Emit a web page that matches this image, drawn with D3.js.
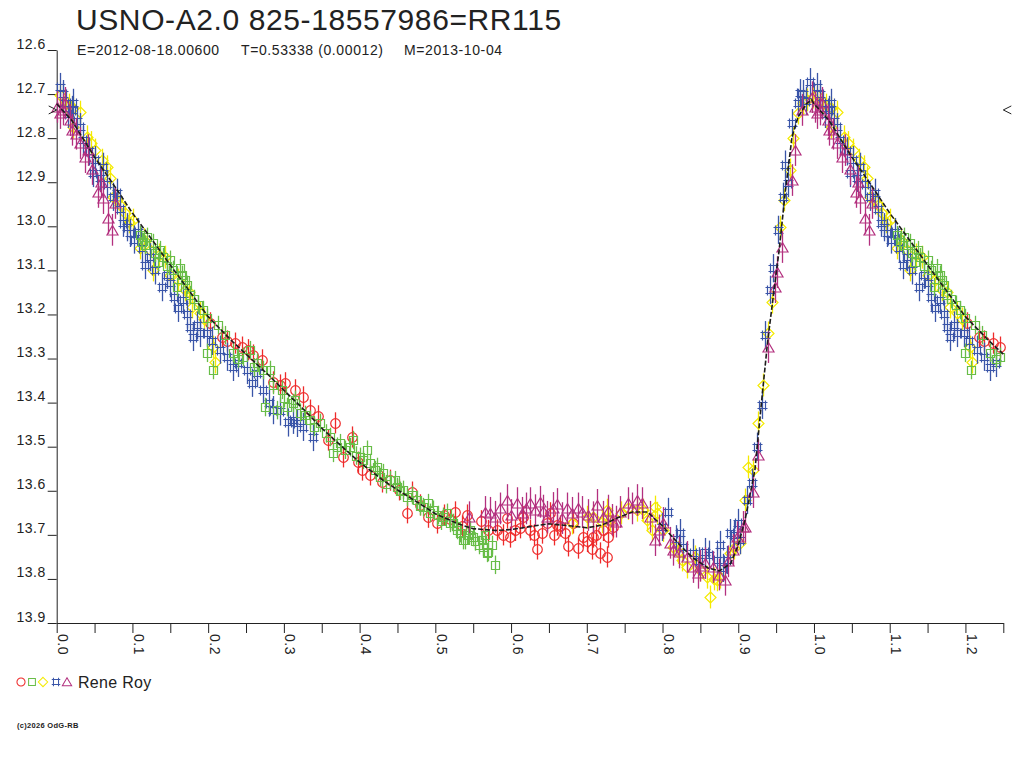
<!DOCTYPE html>
<html>
<head>
<meta charset="utf-8">
<script src="https://cdn.jsdelivr.net/npm/d3@7"></script>
<style>
  body { margin: 0; background: #fff; }
  svg text { font-family: "Liberation Sans", Arial, sans-serif; fill: #222; }
</style>
</head>
<body>
<svg id="chart" width="1024" height="768"></svg>
<script>
const title = 'USNO-A2.0 825-18557986=RR115';
const subtitle = ['E=2012-08-18.00600', 'T=0.53338 (0.00012)', 'M=2013-10-04'];
const observer = 'Rene Roy';
const credit = '(c)2026 OdG-RB';

const magTicks = [12.6, 12.7, 12.8, 12.9, 13.0, 13.1, 13.2, 13.3, 13.4, 13.5, 13.6, 13.7, 13.8, 13.9];
const phaseTicks = [0, 0.05, 0.1, 0.15, 0.2, 0.25, 0.3, 0.35, 0.4, 0.45, 0.5, 0.55, 0.6, 0.65,
  0.7, 0.75, 0.8, 0.85, 0.9, 0.95, 1.0, 1.05, 1.1, 1.15, 1.2, 1.25];
const phaseLabels = ['0.0', '0.1', '0.2', '0.3', '0.4', '0.5', '0.6', '0.7', '0.8', '0.9', '1.0', '1.1', '1.2'];
const maxMark = 12.736;

// [phase, magnitude] per comparison set (same observer)
const redCircles = [
  [0.202, 13.219], [0.218, 13.251], [0.225, 13.260], [0.236, 13.265], [0.245, 13.274], [0.252, 13.280],
  [0.259, 13.292], [0.271, 13.303], [0.286, 13.353], [0.295, 13.360], [0.302, 13.355], [0.315, 13.371],
  [0.325, 13.387], [0.335, 13.417], [0.345, 13.430], [0.358, 13.485], [0.367, 13.446], [0.378, 13.523],
  [0.390, 13.478], [0.398, 13.535], [0.403, 13.553], [0.414, 13.564], [0.430, 13.580], [0.440, 13.576],
  [0.452, 13.598], [0.463, 13.650], [0.469, 13.603], [0.480, 13.632], [0.490, 13.660], [0.502, 13.673],
  [0.511, 13.655], [0.520, 13.665], [0.526, 13.648], [0.535, 13.680], [0.542, 13.655], [0.560, 13.668],
  [0.570, 13.690], [0.581, 13.689], [0.590, 13.700], [0.595, 13.662], [0.599, 13.705], [0.605, 13.690],
  [0.612, 13.684], [0.616, 13.659], [0.625, 13.689], [0.630, 13.700], [0.634, 13.732], [0.641, 13.696],
  [0.647, 13.673], [0.651, 13.650], [0.657, 13.700], [0.661, 13.678], [0.665, 13.680], [0.671, 13.696],
  [0.675, 13.725], [0.682, 13.673], [0.688, 13.730], [0.695, 13.705], [0.700, 13.715], [0.707, 13.732],
  [0.708, 13.705], [0.712, 13.700], [0.717, 13.741], [0.722, 13.690], [0.727, 13.750], [0.728, 13.705],
  [0.735, 13.682]
];
const greenSquares = [
  [0.110, 13.020], [0.113, 13.035], [0.117, 13.042], [0.119, 13.024], [0.127, 13.038], [0.130, 13.060],
  [0.134, 13.081], [0.137, 13.054], [0.140, 13.070], [0.145, 13.090], [0.150, 13.076], [0.154, 13.099],
  [0.159, 13.138], [0.163, 13.095], [0.166, 13.110], [0.169, 13.122], [0.172, 13.133], [0.176, 13.156],
  [0.181, 13.165], [0.187, 13.178], [0.193, 13.190], [0.199, 13.208], [0.199, 13.287], [0.207, 13.326],
  [0.213, 13.224], [0.222, 13.247], [0.233, 13.287], [0.240, 13.300], [0.246, 13.296], [0.255, 13.281],
  [0.260, 13.320], [0.264, 13.310], [0.272, 13.326], [0.275, 13.410], [0.282, 13.326], [0.285, 13.360],
  [0.291, 13.417], [0.297, 13.371], [0.300, 13.390], [0.304, 13.410], [0.312, 13.401], [0.315, 13.394],
  [0.321, 13.423], [0.328, 13.428], [0.335, 13.439], [0.340, 13.455], [0.348, 13.446], [0.355, 13.470],
  [0.361, 13.478], [0.365, 13.514], [0.370, 13.500], [0.374, 13.492], [0.381, 13.507], [0.387, 13.501],
  [0.391, 13.485], [0.395, 13.520], [0.400, 13.523], [0.405, 13.530], [0.410, 13.507], [0.414, 13.537],
  [0.420, 13.553], [0.423, 13.546], [0.427, 13.569], [0.431, 13.560], [0.435, 13.585], [0.440, 13.576],
  [0.447, 13.576], [0.449, 13.591], [0.453, 13.600], [0.457, 13.598], [0.463, 13.614], [0.469, 13.610],
  [0.476, 13.621], [0.480, 13.635], [0.484, 13.637], [0.490, 13.628], [0.493, 13.650], [0.497, 13.643],
  [0.504, 13.655], [0.508, 13.668], [0.510, 13.659], [0.515, 13.650], [0.519, 13.673], [0.523, 13.673],
  [0.527, 13.680], [0.529, 13.689], [0.533, 13.696], [0.537, 13.712], [0.539, 13.712], [0.543, 13.700],
  [0.546, 13.689], [0.550, 13.705], [0.553, 13.715], [0.557, 13.723], [0.562, 13.712], [0.563, 13.727],
  [0.566, 13.700], [0.568, 13.741], [0.570, 13.739], [0.575, 13.723], [0.579, 13.768]
];
const yellowDiamonds = [
  [0.004, 12.702], [0.012, 12.718], [0.016, 12.725], [0.022, 12.732], [0.031, 12.741], [0.022, 12.775],
  [0.040, 12.797], [0.045, 12.810], [0.051, 12.827], [0.060, 12.850], [0.066, 12.865], [0.070, 12.890],
  [0.074, 12.933], [0.080, 12.940], [0.084, 12.952], [0.090, 12.970], [0.095, 12.990], [0.101, 12.986],
  [0.110, 13.049], [0.115, 13.030], [0.123, 13.054], [0.127, 13.099], [0.135, 13.065], [0.143, 13.070],
  [0.150, 13.110], [0.160, 13.122], [0.169, 13.144], [0.175, 13.150], [0.179, 13.183], [0.189, 13.197],
  [0.195, 13.210], [0.206, 13.274], [0.209, 13.308],
  [0.681, 13.673], [0.700, 13.660], [0.708, 13.659], [0.720, 13.670], [0.727, 13.644], [0.731, 13.666],
  [0.745, 13.650], [0.755, 13.640], [0.766, 13.644], [0.774, 13.644], [0.780, 13.666], [0.790, 13.637],
  [0.793, 13.651], [0.786, 13.689], [0.800, 13.690], [0.814, 13.727], [0.820, 13.740], [0.826, 13.757],
  [0.832, 13.773], [0.843, 13.750], [0.850, 13.780], [0.859, 13.796], [0.863, 13.841], [0.868, 13.800],
  [0.872, 13.802], [0.876, 13.796], [0.889, 13.741], [0.895, 13.730], [0.902, 13.718], [0.909, 13.621],
  [0.913, 13.546], [0.920, 13.553], [0.926, 13.446], [0.933, 13.360], [0.939, 13.242], [0.945, 13.172],
  [0.955, 13.002], [0.960, 12.940], [0.968, 12.872], [0.972, 12.800], [0.979, 12.743], [0.985, 12.720],
  [0.991, 12.713], [0.999, 12.707]
];
const blueHashes = [
  [0.004, 12.684], [0.008, 12.700], [0.011, 12.720], [0.015, 12.745], [0.022, 12.720], [0.020, 12.736],
  [0.027, 12.760], [0.031, 12.775], [0.035, 12.804], [0.043, 12.830], [0.048, 12.879], [0.051, 12.850],
  [0.057, 12.890], [0.061, 12.865], [0.067, 12.905], [0.074, 12.933], [0.080, 12.924], [0.084, 12.960],
  [0.088, 12.992], [0.093, 13.002], [0.097, 13.015], [0.102, 13.030], [0.107, 13.013], [0.112, 13.050],
  [0.117, 13.088], [0.123, 13.070], [0.130, 13.100], [0.139, 13.138], [0.145, 13.110], [0.150, 13.129],
  [0.155, 13.160], [0.160, 13.185], [0.167, 13.167], [0.172, 13.200], [0.176, 13.228], [0.180, 13.251],
  [0.185, 13.225], [0.189, 13.242], [0.198, 13.242], [0.205, 13.260], [0.215, 13.280], [0.225, 13.296],
  [0.233, 13.319], [0.240, 13.310], [0.251, 13.326], [0.258, 13.355], [0.264, 13.333], [0.272, 13.371],
  [0.280, 13.400], [0.286, 13.417], [0.295, 13.420], [0.305, 13.445], [0.312, 13.439], [0.317, 13.446],
  [0.325, 13.455], [0.338, 13.478],
  [0.799, 13.682], [0.807, 13.648], [0.818, 13.710], [0.823, 13.696], [0.827, 13.727], [0.840, 13.741],
  [0.848, 13.760], [0.856, 13.739], [0.862, 13.745], [0.872, 13.757], [0.876, 13.723], [0.880, 13.775],
  [0.885, 13.757], [0.889, 13.696], [0.895, 13.700], [0.900, 13.673], [0.902, 13.712], [0.912, 13.621],
  [0.918, 13.582], [0.925, 13.500], [0.931, 13.405], [0.935, 13.247], [0.942, 13.144], [0.946, 13.095],
  [0.953, 13.008], [0.959, 12.933], [0.962, 12.860], [0.966, 12.902], [0.971, 12.766], [0.979, 12.720],
  [0.981, 12.698], [0.986, 12.700], [0.990, 12.715], [0.995, 12.673]
];
const purpleTriangles = [
  [0.001, 12.729], [0.004, 12.743], [0.008, 12.735], [0.011, 12.720], [0.018, 12.759], [0.020, 12.781],
  [0.025, 12.790], [0.031, 12.811], [0.037, 12.843], [0.041, 12.827], [0.047, 12.870], [0.055, 12.922],
  [0.058, 12.900], [0.061, 12.936], [0.068, 12.981], [0.073, 13.008], [0.077, 12.947],
  [0.545, 13.660], [0.566, 13.648], [0.572, 13.650], [0.579, 13.659], [0.585, 13.640], [0.595, 13.621],
  [0.600, 13.655], [0.608, 13.628], [0.614, 13.650], [0.620, 13.640], [0.625, 13.628], [0.632, 13.644],
  [0.638, 13.625], [0.642, 13.645], [0.647, 13.659], [0.655, 13.639], [0.660, 13.630], [0.667, 13.662],
  [0.674, 13.640], [0.680, 13.650], [0.688, 13.640], [0.694, 13.648], [0.702, 13.655], [0.708, 13.660],
  [0.714, 13.632], [0.722, 13.659], [0.728, 13.645], [0.733, 13.666], [0.738, 13.670], [0.744, 13.648],
  [0.754, 13.628], [0.760, 13.640], [0.766, 13.621], [0.773, 13.628], [0.784, 13.659], [0.790, 13.712],
  [0.795, 13.690], [0.801, 13.673], [0.810, 13.718], [0.814, 13.734], [0.822, 13.740], [0.832, 13.750],
  [0.840, 13.773], [0.847, 13.786], [0.850, 13.770], [0.856, 13.764], [0.867, 13.773], [0.875, 13.790],
  [0.882, 13.802], [0.887, 13.760], [0.893, 13.734], [0.898, 13.705], [0.906, 13.682], [0.909, 13.682],
  [0.919, 13.603], [0.926, 13.519], [0.939, 13.274], [0.948, 13.138], [0.951, 13.104], [0.958, 13.047],
  [0.971, 12.895], [0.975, 12.827], [0.984, 12.736], [0.997, 12.707]
];
const meanCurve = [
  [0.000, 12.722], [0.020, 12.760], [0.050, 12.843], [0.080, 12.918], [0.100, 12.970], [0.130, 13.040],
  [0.150, 13.088], [0.180, 13.158], [0.200, 13.205], [0.230, 13.258], [0.250, 13.290], [0.280, 13.338],
  [0.300, 13.372], [0.330, 13.422], [0.350, 13.458], [0.380, 13.505], [0.400, 13.535], [0.430, 13.575],
  [0.450, 13.598], [0.480, 13.630], [0.500, 13.652], [0.530, 13.675], [0.550, 13.686], [0.580, 13.690],
  [0.600, 13.688], [0.630, 13.680], [0.650, 13.675], [0.680, 13.680], [0.700, 13.684], [0.720, 13.678],
  [0.740, 13.662], [0.760, 13.648], [0.780, 13.648], [0.800, 13.680], [0.820, 13.718], [0.840, 13.752],
  [0.860, 13.775], [0.875, 13.782], [0.890, 13.765], [0.900, 13.723], [0.909, 13.666], [0.922, 13.553],
  [0.931, 13.394], [0.939, 13.258], [0.954, 13.054], [0.962, 12.924], [0.971, 12.797], [0.979, 12.752],
  [0.990, 12.722], [0.997, 12.713]
];

const phaseMax = 1.25;
const series = [
  { data: redCircles, err: 0.024, color: '#ee2a2a', shape: 'circle' },
  { data: yellowDiamonds, err: 0.026, color: '#f4ea00', shape: 'diamond' },
  { data: blueHashes, err: 0.032, color: '#3a55a8', shape: 'hash' },
  { data: greenSquares, err: 0.021, color: '#68bd48', shape: 'square' },
  { data: purpleTriangles, err: 0.036, color: '#b3307f', shape: 'triangle' }
];
const legendOrder = ['circle', 'square', 'diamond', 'hash', 'triangle'];

// points before phase 0.25 are repeated one cycle later
function withRepeat(data) {
  return data.concat(data.filter((d) => d[0] + 1 <= phaseMax).map((d) => [d[0] + 1, d[1]]));
}

const svg = d3.select('#chart');
const x = d3.scaleLinear().domain([0, phaseMax]).range([56.7, 1003.3]);
const y = d3.scaleLinear().domain([12.6, 13.9]).range([50, 623]);

function shapePath(shape) {
  switch (shape) {
    case 'circle': return d3.symbol(d3.symbolCircle, 72)();
    case 'square': return 'M-4,-4H4V4H-4Z';
    case 'diamond': return 'M0,-5.5L5.5,0L0,5.5L-5.5,0Z';
    case 'hash': return 'M-3,-3H3V3H-3Z M-3,-5V5 M3,-5V5 M-5,-3H5 M-5,3H5';
    default: return 'M0,-5L5.5,4.5L-5.5,4.5Z';
  }
}

// title block
svg.append('text').attr('x', 76).attr('y', 30).attr('font-size', 30)
  .attr('letter-spacing', 0.6).text(title);
const subX = [77, 241, 404];
subtitle.forEach((s, i) => {
  svg.append('text').attr('x', subX[i]).attr('y', 55).attr('font-size', 14)
    .attr('letter-spacing', 0.6).text(s);
});

// axes
const yAxis = svg.append('g').attr('transform', `translate(${x(0)},0)`)
  .call(d3.axisLeft(y).tickValues(magTicks).tickSize(9).tickSizeOuter(0).tickFormat(d3.format('.1f')));
yAxis.selectAll('text').attr('dy', '-2px').attr('x', -11)
  .attr('font-size', 14).attr('letter-spacing', 0.5);

const xAxis = svg.append('g').attr('transform', `translate(0,${y(13.9)})`)
  .call(d3.axisBottom(x).tickValues(phaseTicks).tickSize(10).tickSizeOuter(0)
    .tickFormat((d) => {
      const s = d.toFixed(1);
      return Math.abs(d * 10 - Math.round(d * 10)) < 1e-6 && phaseLabels.includes(s) ? s : '';
    }));
xAxis.selectAll('text').attr('x', 0).attr('y', 0).attr('dy', 0)
  .attr('transform', 'translate(1,11) rotate(90)').attr('text-anchor', 'start')
  .attr('font-size', 14).attr('letter-spacing', 0.5);

[yAxis, xAxis].forEach((g) => {
  g.attr('font-family', null);
  g.select('.domain').attr('stroke', '#222');
  g.selectAll('.tick line').attr('stroke', '#222');
});

// error bars and markers
series.forEach((s) => {
  const pts = withRepeat(s.data);
  const g = svg.append('g');
  g.selectAll('line').data(pts).join('line')
    .attr('x1', (d) => Math.round(x(d[0])) + 0.5)
    .attr('x2', (d) => Math.round(x(d[0])) + 0.5)
    .attr('y1', (d) => y(d[1] - s.err))
    .attr('y2', (d) => y(d[1] + s.err))
    .attr('stroke', s.color).attr('stroke-width', 1.3);
  g.selectAll('path').data(pts).join('path')
    .attr('d', shapePath(s.shape))
    .attr('transform', (d) => `translate(${Math.round(x(d[0])) + 0.5},${Math.round(y(d[1])) + 0.5})`)
    .attr('fill', 'none').attr('stroke', s.color).attr('stroke-width', 1.2);
});

// mean light curve
const line = d3.line().x((d) => x(d[0])).y((d) => y(d[1]));
svg.append('path').datum(withRepeat(meanCurve))
  .attr('d', line)
  .attr('fill', 'none').attr('stroke', '#1d1d1d').attr('stroke-width', 1.6)
  .attr('stroke-dasharray', '5,2');

// max brightness marks at both ends
const my = y(maxMark);
svg.append('path').attr('d', `M${x(0) - 8},${my - 4}L${x(0)},${my}L${x(0) - 8},${my + 4}`)
  .attr('fill', 'none').attr('stroke', '#222');
svg.append('path').attr('d', `M${x(phaseMax) + 8},${my - 4}L${x(phaseMax)},${my}L${x(phaseMax) + 8},${my + 4}`)
  .attr('fill', 'none').attr('stroke', '#222');

// legend
const legend = svg.append('g').attr('transform', 'translate(0,682)');
const legendX = [21, 32, 43, 56, 67];
legendOrder.forEach((shape, i) => {
  const s = series.find((d) => d.shape === shape);
  legend.append('path').attr('d', shapePath(shape))
    .attr('transform', `translate(${legendX[i]},0) scale(0.85)`)
    .attr('fill', 'none').attr('stroke', s.color).attr('stroke-width', 1.2);
});
legend.append('text').attr('x', 78).attr('y', 5.5).attr('font-size', 16)
  .attr('letter-spacing', 0.3).text(observer);

svg.append('text').attr('x', 17).attr('y', 728).attr('font-size', 7.5)
  .attr('font-weight', 'bold').attr('letter-spacing', 0.3).text(credit);
</script>
</body>
</html>
